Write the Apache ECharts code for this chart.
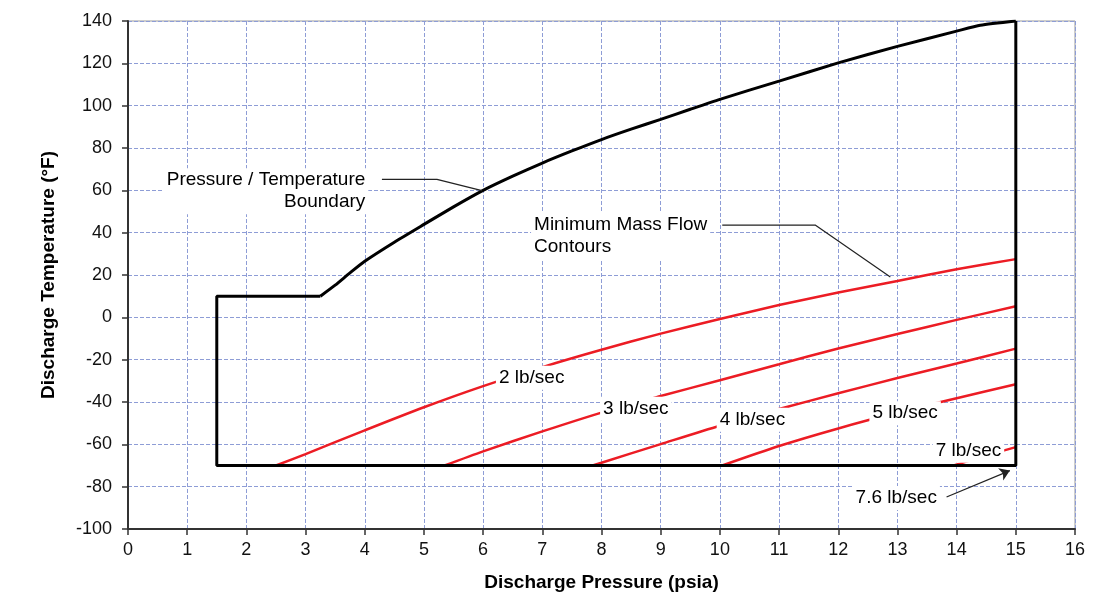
<!DOCTYPE html>
<html><head><meta charset="utf-8">
<script src="https://cdn.jsdelivr.net/npm/echarts@6/dist/echarts.min.js"></script>
<style>html,body{margin:0;padding:0;background:#fff}#c{width:1093px;height:609px}</style>
</head><body><div id="c"></div>
<script>
// ---- data ----
const boundaryCurve = [[3.25,10],[3.5,15.2],[3.75,21],[4,26.5],[4.5,35.5],[5,43.9],[5.5,52.2],[6,60],[6.5,66.7],[7,72.9],[7.5,78.6],[8,84],[8.5,88.9],[9,93.5],[9.5,98.3],[10,103],[11,111.6],[12,120.2],[13,128],[14,135.2],[14.4,138],[15,140]];
const boundaryBox = [[3.25,10],[1.5,10],[1.5,-70],[15,-70],[15,140]];
const flow2 = [[2.5,-70],[3,-64.6],[4,-53.4],[5,-42.5],[6,-32.5],[7,-23.5],[8,-15.3],[9,-7.7],[10,-0.8],[11,5.8],[12,11.7],[13,17.2],[14,22.7],[15,27.5]];
const flow3 = [[5.35,-70],[6,-63.3],[7,-53.9],[8,-45],[9,-37.2],[10,-29.7],[11,-22.2],[12,-14.7],[13,-7.9],[14,-1.2],[15,5.2]];
const flow4 = [[7.85,-70],[8,-68.7],[9,-59.9],[10,-51.2],[11,-43.3],[12,-35.9],[13,-28.7],[14,-21.8],[15,-14.8]];
const flow5 = [[10.04,-70],[11,-60.8],[12,-52.5],[13,-45],[14,-38.2],[15,-31.6]];
const flow7 = [[13.95,-70],[14.5,-65.3],[15,-61.3]];
const curveLabels = ['2 lb/sec','3 lb/sec','4 lb/sec','5 lb/sec','7 lb/sec'];
const curveLabelPos = [[6.82,-28.6],[8.58,-43.2],[10.55,-48.4],[13.13,-45.3],[14.2,-63]];
const boundaryText = 'Pressure / Temperature\nBoundary';
const boundaryTextAt = [4.06,59.6];
const boundaryLeader = [[4.29,65.2],[5.22,65.2],[5.98,59.9]];
const flowText = 'Minimum Mass Flow\nContours';
const flowTextAt = [6.81,38.4];
const flowLeader = [[10.04,43.6],[11.61,43.6],[12.88,19]];
const maxText = '7.6 lb/sec';
const maxTextAt = [12.98,-85.4];
const maxArrow = [[13.83,-84.9],[14.9,-72.4]];
const xName = 'Discharge Pressure (psia)';
const yName = 'Discharge Temperature (°F)';

const FONT = 'Liberation Sans, Arial, sans-serif';
const RED = '#ec1c24';
const TXT = '#000';
const gridLine = {show:true, lineStyle:{color:'#8e9dd6', type:[4,2], width:1}};

function redSeries(d){
  return {type:'line', data:d, smooth:0.25, showSymbol:false, symbol:'none', silent:true,
    lineStyle:{color:RED, width:2.5}, z:3};
}
const labelBase = {show:true, distance:0, formatter:'{b}', color:TXT, opacity:1,
  fontFamily:FONT, fontSize:19, lineHeight:22, backgroundColor:'#fff', padding:[1,3],
  textBorderWidth:0};
function textPoint(name, at, pos, extra){
  return {type:'scatter', symbolSize:0, silent:true, z:10, itemStyle:{opacity:1},
    data:[{name:name, value:at}],
    label:Object.assign({}, labelBase, {position:pos}, extra||{})};
}

const chart = echarts.init(document.getElementById('c'));
chart.setOption({
  animation:false,
  backgroundColor:'#fff',
  grid:{left:128, top:21, right:18, bottom:80, show:true, borderColor:'#9a9a9a', borderWidth:1},
  xAxis:{type:'value', min:0, max:16, interval:1,
    name:xName, nameLocation:'middle', nameGap:44,
    nameTextStyle:{fontFamily:FONT, fontSize:19, fontWeight:'bold', color:'#000'},
    axisLine:{show:true, onZero:false, lineStyle:{color:'#333', width:2}},
    axisTick:{show:true, length:6, lineStyle:{color:'#333', width:1.5}},
    axisLabel:{fontFamily:FONT, fontSize:18, color:'#111', margin:12},
    splitLine:gridLine},
  yAxis:{type:'value', min:-100, max:140, interval:20,
    name:yName, nameLocation:'middle', nameGap:70, nameRotate:90,
    nameTextStyle:{fontFamily:FONT, fontSize:19, fontWeight:'bold', color:'#000'},
    axisLine:{show:true, onZero:false, lineStyle:{color:'#333', width:2}},
    axisTick:{show:true, length:6, lineStyle:{color:'#333', width:1.5}},
    axisLabel:{fontFamily:FONT, fontSize:18, color:'#111', margin:16},
    splitLine:gridLine},
  series:[
    {type:'line', data:boundaryCurve, smooth:0.2, symbol:'none', silent:true, lineStyle:{color:'#000', width:3}, z:4},
    {type:'line', data:boundaryBox, smooth:false, symbol:'none', silent:true, lineStyle:{color:'#000', width:3}, z:4},
    redSeries(flow2), redSeries(flow3), redSeries(flow4), redSeries(flow5), redSeries(flow7),
    {type:'line', data:boundaryLeader, symbol:'none', silent:true, lineStyle:{color:'#222', width:1.2}, z:5},
    {type:'line', data:flowLeader, symbol:'none', silent:true, lineStyle:{color:'#222', width:1.2}, z:5},
    {type:'lines', coordinateSystem:'cartesian2d', silent:true, z:5,
      symbol:['none','arrow'], symbolSize:10,
      lineStyle:{color:'#222', width:1.2, opacity:1},
      data:[{coords:maxArrow}]},
    {type:'scatter', symbolSize:0, silent:true, z:10, itemStyle:{opacity:1},
      data:curveLabels.map((n,i)=>({name:n, value:curveLabelPos[i]})),
      label:Object.assign({}, labelBase, {position:'inside'})},
    textPoint(boundaryText, boundaryTextAt, 'left', {align:'right'}),
    textPoint(flowText, flowTextAt, 'right', {align:'left'}),
    textPoint(maxText, maxTextAt, 'inside')
  ]
});
</script></body></html>
